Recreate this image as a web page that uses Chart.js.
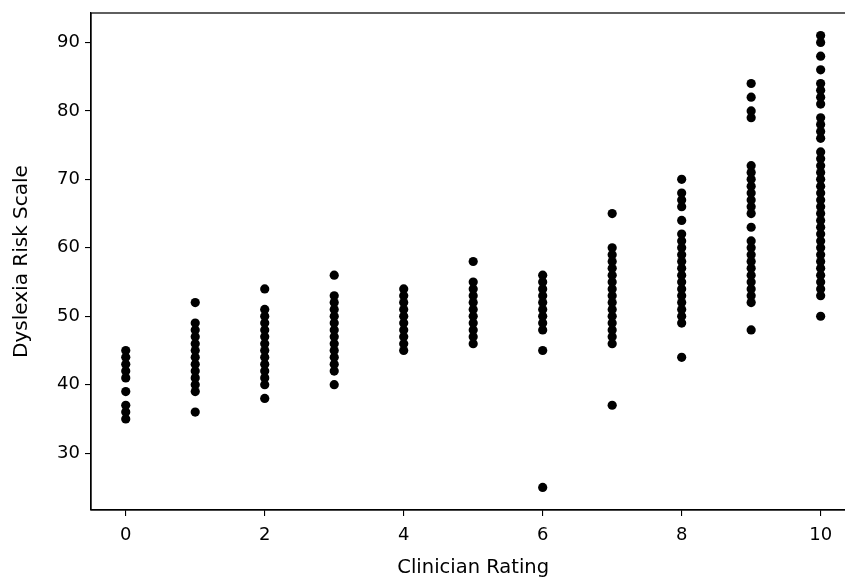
<!DOCTYPE html>
<html>
<head>
<meta charset="utf-8">
<script src="https://cdn.jsdelivr.net/npm/chart.js@4"></script>
<style>
html,body{margin:0;padding:0;background:#fff;overflow:hidden;}
#wrap{width:845px;height:577px;position:relative;overflow:hidden;}
</style>
</head>
<body>
<div id="wrap"><canvas id="c" width="860" height="577"></canvas></div>
<script>
// Clinician rating categories
const ratings = [0, 1, 2, 3, 4, 5, 6, 7, 8, 9, 10];
// Dyslexia Risk Scale values per clinician rating
const r0 = [45, 44, 43, 42, 41, 39, 37, 36, 35];
const r1 = [52, 49, 48, 47, 46, 45, 44, 43, 42, 41, 40, 39, 36];
const r2 = [54, 51, 50, 49, 48, 47, 46, 45, 44, 43, 42, 41, 40, 38];
const r3 = [56, 53, 52, 51, 50, 49, 48, 47, 46, 45, 44, 43, 42, 40];
const r4 = [54, 53, 52, 51, 50, 49, 48, 47, 46, 45];
const r5 = [58, 55, 54, 53, 52, 51, 50, 49, 48, 47, 46];
const r6 = [56, 55, 54, 53, 52, 51, 50, 49, 48, 45, 25];
const r7 = [65, 60, 59, 58, 57, 56, 55, 54, 53, 52, 51, 50, 49, 48, 47, 46, 37];
const r8 = [70, 68, 67, 66, 64, 62, 61, 60, 59, 58, 57, 56, 55, 54, 53, 52, 51, 50, 49, 44];
const r9 = [84, 82, 80, 79, 72, 71, 70, 69, 68, 67, 66, 65, 63, 61, 60, 59, 58, 57, 56, 55, 54, 53, 52, 48];
const r10 = [91, 90, 88, 86, 84, 83, 82, 81, 79, 78, 77, 76, 74, 73, 72, 71, 70, 69, 68, 67, 66, 65, 64, 63, 62, 61, 60, 59, 58, 57, 56, 55, 54, 53, 50];
// Tick labels
const xTicks = [0, 2, 4, 6, 8, 10];
const yTicks = [30, 40, 50, 60, 70, 80, 90];
const xTitle = 'Clinician Rating';
const yTitle = 'Dyslexia Risk Scale';

const byRating = [r0, r1, r2, r3, r4, r5, r6, r7, r8, r9, r10];
const points = [];
ratings.forEach((r, i) => byRating[i].forEach(v => points.push({x: r, y: v})));

const FONT = "'DejaVu Sans', sans-serif";

const framePlugin = {
  id: 'frame',
  afterDraw(chart) {
    const {ctx, chartArea: a} = chart;
    ctx.save();
    ctx.strokeStyle = '#000';
    ctx.lineWidth = 1.25;
    ctx.strokeRect(a.left, a.top, a.right - a.left, a.bottom - a.top);
    ctx.restore();
  }
};

new Chart(document.getElementById('c'), {
  type: 'scatter',
  data: {
    datasets: [{
      data: points,
      backgroundColor: '#000',
      borderWidth: 0,
      pointRadius: 4.6,
      pointHoverRadius: 4.6
    }]
  },
  options: {
    responsive: false,
    animation: false,
    events: [],
    layout: {padding: {top: 13, right: 0, left: 0, bottom: 0}},
    plugins: {legend: {display: false}, tooltip: {enabled: false}},
    scales: {
      x: {
        type: 'linear',
        min: -0.5,
        max: 10.5,
        afterBuildTicks(s) { s.ticks = xTicks.map(v => ({value: v})); },
        afterFit(s) { s.height = 67; s.paddingLeft = 0; s.paddingRight = 0; },
        grid: {drawOnChartArea: false, drawTicks: true, tickLength: 6, color: '#000', lineWidth: 1.1},
        border: {display: true, color: '#000', width: 1.25},
        ticks: {color: '#000', font: {family: FONT, size: 18}, padding: 9, maxRotation: 0, autoSkip: false},
        title: {display: true, text: xTitle, color: '#000', font: {family: FONT, size: 19.5}, padding: {top: 0, bottom: -3}}
      },
      y: {
        type: 'linear',
        min: 21.7,
        max: 94.3,
        afterBuildTicks(s) { s.ticks = yTicks.map(v => ({value: v})); },
        afterFit(s) { s.width = 91; s.paddingTop = 0; s.paddingBottom = 0; },
        grid: {drawOnChartArea: false, drawTicks: true, tickLength: 6, color: '#000', lineWidth: 1.1},
        border: {display: true, color: '#000', width: 1.25},
        ticks: {color: '#000', font: {family: FONT, size: 18}, padding: 5, autoSkip: false},
        title: {display: true, text: yTitle, color: '#000', font: {family: FONT, size: 20}, padding: {top: 10, bottom: 0}}
      }
    }
  },
  plugins: [framePlugin]
});
</script>
</body>
</html>
